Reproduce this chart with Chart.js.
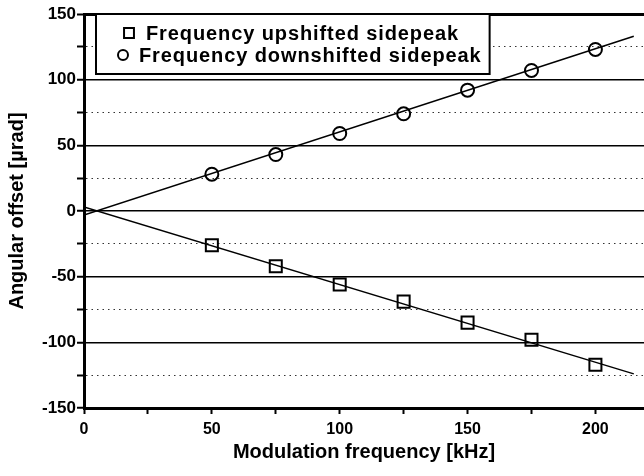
<!DOCTYPE html>
<html>
<head>
<meta charset="utf-8">
<script src="https://cdn.jsdelivr.net/npm/chart.js@4.4.1/dist/chart.umd.min.js"></script>
<style>
  body { margin: 0; background: #fff; }
  canvas { display: block; }
</style>
</head>
<body>
<canvas id="myChart" width="644" height="476"></canvas>
<script>
// measured points
const freqs = [50, 75, 100, 125, 150, 175, 200];
const upshifted = [-26, -42, -56, -69, -85, -98, -117];
const downshifted = [28, 43, 59, 74, 92, 107, 123];

// linear fits (end points)
const fitX = [0, 215];
const upFit = [3, -124];
const downFit = [-3, 133];

const upLabel = 'Frequency upshifted sidepeak';
const downLabel = 'Frequency downshifted sidepeak';

function toXY(xs, ys) {
  return xs.map((x, i) => ({x: x, y: ys[i]}));
}

const fontFamily = '"Liberation Sans", Arial, sans-serif';

// legend drawn inside the plot, top left, with a framed white box
const boxLegend = {
  id: 'boxLegend',
  afterDatasetsDraw(chart) {
    const ctx = chart.ctx;
    const area = chart.chartArea;
    const items = chart.data.datasets.filter(d => d.label);
    ctx.save();
    ctx.font = 'bold 20px ' + fontFamily;
    ctx.letterSpacing = '0.9px';
    let maxW = 0;
    items.forEach((d, i) => { maxW = Math.max(maxW, ctx.measureText(d.label).width - i * 7); });
    const left = area.left + 12;
    const top = area.top;
    const textX = left + 50;
    const w = textX - left + maxW + 8;
    const h = 60;
    ctx.fillStyle = '#fff';
    ctx.fillRect(left, top, w, h);
    ctx.lineWidth = 2;
    ctx.strokeStyle = '#000';
    ctx.strokeRect(left, top, w, h);
    items.forEach((d, i) => {
      const cy = top + 19 + i * 22;
      ctx.fillStyle = 'rgba(0,0,0,0)';
      ctx.strokeStyle = '#000';
      Chart.helpers.drawPoint(ctx, {
        pointStyle: d.pointStyle,
        radius: d.pointStyle === 'rect' ? 7 : 5,
        borderWidth: 2
      }, left + 33 - i * 6, cy);
      ctx.fillStyle = '#000';
      ctx.textBaseline = 'middle';
      ctx.fillText(d.label, textX - i * 7, cy + 1);
    });
    ctx.restore();
  }
};

new Chart('myChart', {
  type: 'scatter',
  data: {
    datasets: [
      {
        label: upLabel,
        data: toXY(freqs, upshifted),
        pointStyle: 'rect',
        pointRadius: 8.5,
        pointBorderWidth: 2,
        pointBackgroundColor: 'rgba(0,0,0,0)',
        pointBorderColor: '#000',
        showLine: false,
        order: 1
      },
      {
        label: downLabel,
        data: toXY(freqs, downshifted),
        pointStyle: 'circle',
        pointRadius: 6.5,
        pointBorderWidth: 2,
        pointBackgroundColor: 'rgba(0,0,0,0)',
        pointBorderColor: '#000',
        showLine: false,
        order: 1
      },
      {
        data: toXY(fitX, upFit),
        showLine: true,
        borderColor: '#000',
        borderWidth: 1.5,
        pointRadius: 0,
        order: 2
      },
      {
        data: toXY(fitX, downFit),
        showLine: true,
        borderColor: '#000',
        borderWidth: 1.5,
        pointRadius: 0,
        order: 2
      }
    ]
  },
  options: {
    responsive: false,
    animation: false,
    layout: { autoPadding: false, padding: { top: 14, right: 0, bottom: 0, left: 0 } },
    plugins: {
      legend: { display: false },
      tooltip: { enabled: false }
    },
    scales: {
      x: {
        type: 'linear',
        min: 0,
        max: 219,
        afterFit(scale) {
          scale.height = 68;
          scale.paddingRight = 0;
          scale.paddingLeft = 0;
        },
        border: { display: true, color: '#000', width: 3 },
        grid: {
          drawOnChartArea: false,
          tickLength: 6,
          tickWidth: 2,
          tickColor: '#000'
        },
        ticks: {
          stepSize: 25,
          includeBounds: false,
          autoSkip: false,
          maxRotation: 0,
          padding: 6,
          color: '#000',
          font: { family: fontFamily, size: 16, weight: 'bold' },
          callback: v => (v % 50 === 0 ? v : '')
        },
        title: {
          display: true,
          text: 'Modulation frequency [kHz]',
          color: '#000',
          font: { family: fontFamily, size: 20, weight: 'bold' },
          padding: { top: 0, bottom: 12 }
        }
      },
      y: {
        min: -150,
        max: 150,
        afterFit(scale) { scale.width = 84; },
        border: {
          display: true,
          color: '#000',
          width: 3,
          dash: ctx => (ctx.tick && ctx.tick.value % 50 !== 0 ? [1.5, 4] : [])
        },
        grid: {
          color: ctx => (ctx.tick && ctx.tick.value % 50 !== 0 ? '#333' : '#000'),
          lineWidth: ctx => (ctx.tick && ctx.tick.value === 150 ? 3 : (ctx.tick && ctx.tick.value % 50 !== 0 ? 1 : 1.5)),
          tickLength: 7,
          tickWidth: 2,
          tickColor: '#000'
        },
        ticks: {
          stepSize: 25,
          autoSkip: false,
          padding: 1,
          color: '#000',
          font: { family: fontFamily, size: 17, weight: 'bold' },
          callback: v => (v % 50 === 0 ? v : '')
        },
        title: {
          display: true,
          text: 'Angular offset [µrad]',
          color: '#000',
          font: { family: fontFamily, size: 20, weight: 'bold' },
          padding: { top: 5, bottom: 0 }
        }
      }
    }
  },
  plugins: [boxLegend]
});
</script>
</body>
</html>
